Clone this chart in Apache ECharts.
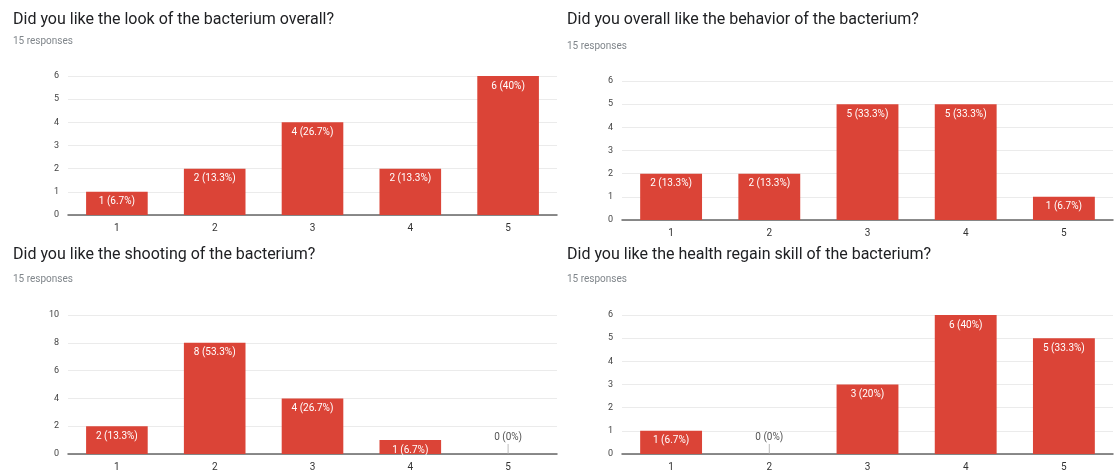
<!DOCTYPE html>
<html>
<head>
<meta charset="utf-8">
<script src="https://cdn.jsdelivr.net/npm/echarts@6/dist/echarts.min.js"></script>
<style>
html,body{margin:0;padding:0;background:#fff;}
#c{width:1117px;height:473px;}
</style>
</head>
<body>
<div id="c"></div>
<script>
const categories = ['1', '2', '3', '4', '5'];
const titles = [
  'Did you like the look of the bacterium overall?',
  'Did you overall like the behavior of the bacterium?',
  'Did you like the shooting of the bacterium?',
  'Did you like the health regain skill of the bacterium?'
];
const subtitle = '15 responses';
const totalResponses = 15;
const lookValues = [1, 2, 4, 2, 6];
const behaviorValues = [2, 2, 5, 5, 1];
const shootingValues = [2, 8, 4, 1, 0];
const healthValues = [1, 0, 3, 6, 5];
const yMax = [6, 6, 10, 6];
const yInterval = [1, 1, 2, 1];

const allValues = [lookValues, behaviorValues, shootingValues, healthValues];

const grids = [
  {left: 68, top: 76, width: 489, height: 139},
  {left: 622, top: 81, width: 491, height: 139},
  {left: 68, top: 315, width: 489, height: 139},
  {left: 622, top: 315, width: 491, height: 139}
];
const titlePos = [
  {left: 8, top: 7, subTop: 31},
  {left: 562, top: 7, subTop: 36},
  {left: 8, top: 242, subTop: 269},
  {left: 562, top: 242, subTop: 269}
];

function pct(v) {
  const p = Math.round(v / totalResponses * 1000) / 10;
  return v + ' (' + p + '%)';
}

const FONT = 'Roboto, "Noto Sans", sans-serif';
const option = {
  animation: false,
  backgroundColor: '#fff',
  title: [],
  grid: grids,
  xAxis: [],
  yAxis: [],
  series: []
};

for (let i = 0; i < 4; i++) {
  option.title.push({
    text: titles[i], left: titlePos[i].left, top: titlePos[i].top,
    textStyle: {fontFamily: FONT, fontSize: 16, fontWeight: 'normal', color: '#202124'}
  });
  option.title.push({
    text: subtitle, left: titlePos[i].left, top: titlePos[i].subTop,
    textStyle: {fontFamily: FONT, fontSize: 10, fontWeight: 'normal', color: '#80868b'}
  });
  option.xAxis.push({
    type: 'category', gridIndex: i, data: categories,
    axisLine: {lineStyle: {color: '#666', width: 1.5}},
    axisTick: {show: false},
    axisLabel: {fontFamily: FONT, fontSize: 10, color: '#333', margin: 8}
  });
  option.yAxis.push({
    type: 'value', gridIndex: i, min: 0, max: yMax[i], interval: yInterval[i],
    axisLine: {show: false}, axisTick: {show: false},
    splitLine: {lineStyle: {color: '#ebebeb', width: 1}},
    axisLabel: {fontFamily: FONT, fontSize: 9, color: '#444', margin: 9}
  });
  const vals = allValues[i];
  option.series.push({
    type: 'bar', xAxisIndex: i, yAxisIndex: i,
    barCategoryGap: '37%',
    itemStyle: {color: '#db4437'},
    data: vals.map(v => ({
      value: v,
      label: v === 0
        ? {show: true, position: 'top', distance: 12, color: '#555', formatter: pct(v)}
        : {show: true, position: 'insideTop', distance: 5, color: '#fff', formatter: pct(v)}
    })),
    label: {fontFamily: FONT, fontSize: 10}
  });
  option.series.push({
    type: 'scatter', xAxisIndex: i, yAxisIndex: i,
    symbol: 'rect', symbolSize: [1, 10], symbolOffset: [0, -5],
    itemStyle: {color: '#aaa'},
    silent: true,
    data: vals.map((v, k) => v === 0 ? [k, 0] : null).filter(d => d !== null)
  });
}

const chart = echarts.init(document.getElementById('c'), null, {renderer: 'canvas'});
chart.setOption(option);
</script>
</body>
</html>
